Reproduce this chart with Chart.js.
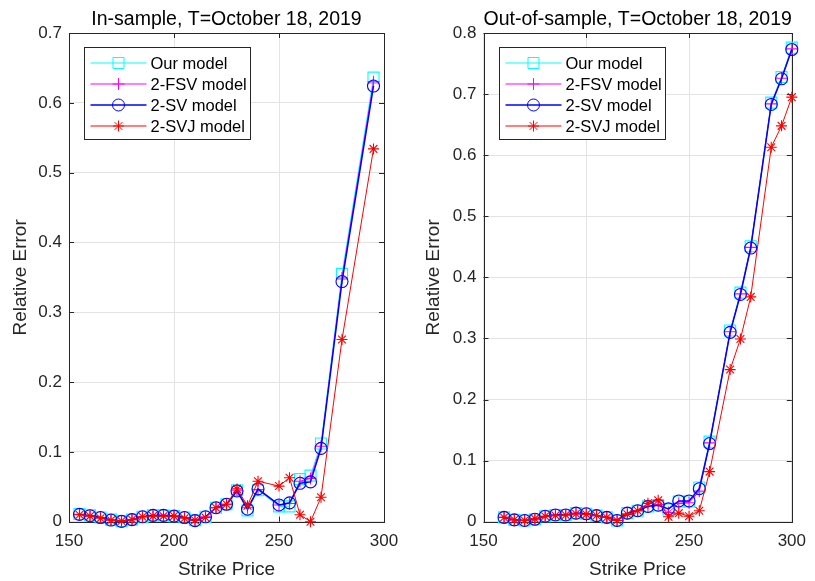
<!DOCTYPE html>
<html>
<head>
<meta charset="utf-8">
<script src="https://cdn.jsdelivr.net/npm/chart.js@4/dist/chart.umd.min.js"></script>
<style>
    html, body { margin: 0; padding: 0; background: #fff; }
    #wrap { position: relative; width: 815px; height: 581px; }
    #wrap canvas { position: absolute; left: 0; top: 0; }
</style>
</head>
<body>
<div id="wrap">
    <canvas id="inSample" width="815" height="581"></canvas>
    <canvas id="outSample" width="815" height="581"></canvas>
</div>
<script>
// values
const seriesNames = ['Our model', '2-FSV model', '2-SV model', '2-SVJ model'];
const xTicks = [150, 200, 250, 300];

const strikeIn = [155, 160, 165, 170, 175, 180, 185, 190, 195, 200, 205, 210, 215,
                  220, 225, 230, 235, 240, 250, 255, 260, 265, 270, 280, 295];
const oursIn = [0.011, 0.009, 0.006, 0.003, 0.001, 0.003, 0.007, 0.009, 0.009, 0.008, 0.006, 0.002, 0.007,
                0.020, 0.025, 0.045, 0.016, 0.045, 0.022, 0.022, 0.061, 0.066, 0.112, 0.355, 0.636];
const fsvIn = [0.0105, 0.0085, 0.006, 0.0025, 0.0008, 0.003, 0.007, 0.009, 0.009, 0.008, 0.006, 0.002, 0.007,
               0.020, 0.025, 0.045, 0.020, 0.046, 0.024, 0.026, 0.058, 0.062, 0.108, 0.349, 0.630];
const svIn = [0.0105, 0.0086, 0.006, 0.0024, 0.0005, 0.003, 0.007, 0.009, 0.009, 0.008, 0.006, 0.0015, 0.007,
              0.020, 0.025, 0.044, 0.018, 0.047, 0.024, 0.027, 0.055, 0.057, 0.105, 0.344, 0.624];
const svjIn = [0.010, 0.008, 0.005, 0.002, 0.001, 0.003, 0.007, 0.008, 0.008, 0.008, 0.005, 0.002, 0.006,
               0.020, 0.025, 0.047, 0.023, 0.058, 0.051, 0.063, 0.010, 0.0, 0.035, 0.261, 0.534];

const strikeOut = [160, 165, 170, 175, 180, 185, 190, 195, 200, 205, 210, 215, 220, 225,
                   230, 235, 240, 245, 250, 255, 260, 270, 275, 280, 290, 295, 300];
const oursOut = [0.007, 0.003, 0.002, 0.004, 0.009, 0.011, 0.011, 0.014, 0.013, 0.010, 0.007, 0.002, 0.014, 0.018,
                 0.025, 0.027, 0.020, 0.033, 0.033, 0.056, 0.131, 0.313, 0.375, 0.451, 0.686, 0.728, 0.776];
const fsvOut = [0.007, 0.003, 0.002, 0.004, 0.009, 0.011, 0.011, 0.014, 0.013, 0.010, 0.007, 0.002, 0.013, 0.018,
                0.025, 0.028, 0.015, 0.030, 0.031, 0.050, 0.129, 0.311, 0.373, 0.449, 0.684, 0.726, 0.774];
const svOut = [0.007, 0.003, 0.002, 0.004, 0.009, 0.011, 0.011, 0.014, 0.013, 0.010, 0.007, 0.002, 0.014, 0.018,
               0.025, 0.027, 0.021, 0.034, 0.034, 0.054, 0.128, 0.310, 0.372, 0.448, 0.683, 0.725, 0.773];
const svjOut = [0.007, 0.003, 0.002, 0.005, 0.009, 0.010, 0.011, 0.013, 0.012, 0.010, 0.007, 0.002, 0.012, 0.018,
                0.030, 0.035, 0.008, 0.014, 0.009, 0.018, 0.082, 0.249, 0.299, 0.368, 0.613, 0.648, 0.695];

const FONT = '"Liberation Sans", Arial, Helvetica, sans-serif';
const AXIS = '#262626';

const styles = [
    { color: '#00ffff', pointStyle: 'rect',   radius: 7.8, width: 1,   order: 4 },
    { color: '#ff00ff', pointStyle: 'cross',  radius: 6,   width: 1,   order: 3 },
    { color: '#0000ff', pointStyle: 'circle', radius: 6,   width: 1.5, order: 2 },
    { color: '#ff0000', pointStyle: 'star',   radius: 5.5, width: 1,   order: 1 },
];

const toPoints = (xs, ys) => xs.map((x, i) => ({ x, y: ys[i] }));

// MATLAB-ish box: border, inward ticks on all four sides, title, legend
const boxPlugin = {
    id: 'matlabBox',
    beforeDatasetsDraw(chart, args, opts) {
        const { ctx, chartArea: a, scales: { x, y } } = chart;
        ctx.save();
        ctx.strokeStyle = AXIS;
        ctx.lineWidth = 1;
        ctx.beginPath();
        x.ticks.forEach(t => {
            const px = Math.round(x.getPixelForValue(t.value)) + 0.5;
            ctx.moveTo(px, a.bottom); ctx.lineTo(px, a.bottom - 5);
            ctx.moveTo(px, a.top); ctx.lineTo(px, a.top + 5);
        });
        y.ticks.forEach(t => {
            const py = Math.round(y.getPixelForValue(t.value)) + 0.5;
            ctx.moveTo(a.left, py); ctx.lineTo(a.left + 5, py);
            ctx.moveTo(a.right, py); ctx.lineTo(a.right - 5, py);
        });
        ctx.stroke();
        ctx.strokeRect(Math.round(a.left) + 0.5, Math.round(a.top) + 0.5,
                       Math.round(a.right - a.left), Math.round(a.bottom - a.top));
        ctx.restore();
    },
    afterDraw(chart, args, opts) {
        const { ctx, chartArea: a } = chart;
        ctx.save();
        ctx.fillStyle = '#000';
        ctx.font = `19.5px ${FONT}`;
        ctx.textAlign = 'center';
        ctx.textBaseline = 'middle';
        ctx.fillText(opts.title, (a.left + a.right) / 2, 20);

        const lx = Math.round(a.left) + 15.5, ly = Math.round(a.top) + 14.5;
        const lw = 166, lh = 92;
        ctx.fillStyle = '#fff';
        ctx.fillRect(lx, ly, lw, lh);
        ctx.strokeStyle = AXIS;
        ctx.lineWidth = 1;
        ctx.strokeRect(lx, ly, lw, lh);
        ctx.font = `16.5px ${FONT}`;
        ctx.textAlign = 'left';
        chart.data.datasets.forEach((ds, i) => {
            const cy = ly + 15.5 + i * 21;
            ctx.strokeStyle = ds.borderColor;
            ctx.lineWidth = ds.borderWidth;
            ctx.beginPath();
            ctx.moveTo(lx + 6, cy); ctx.lineTo(lx + 62, cy);
            ctx.stroke();
            ctx.lineWidth = 1;
            ctx.fillStyle = 'rgba(0,0,0,0)';
            Chart.helpers.drawPoint(ctx, {
                pointStyle: ds.pointStyle, radius: ds.pointRadius, rotation: 0, borderWidth: 1,
            }, lx + 34, cy);
            ctx.fillStyle = '#000';
            ctx.fillText(ds.label, lx + 66, cy + 1);
        });
        ctx.restore();
    },
};

function makeChart(id, title, xs, series, yMax, padLeft, padRight, yAxisWidth, yTitlePad) {
    new Chart(document.getElementById(id), {
        type: 'line',
        data: {
            datasets: series.map((ys, i) => ({
                label: seriesNames[i],
                data: toPoints(xs, ys),
                borderColor: styles[i].color,
                backgroundColor: 'rgba(0,0,0,0)',
                borderWidth: styles[i].width,
                pointStyle: styles[i].pointStyle,
                pointRadius: styles[i].radius,
                pointBorderColor: styles[i].color,
                pointBackgroundColor: 'rgba(0,0,0,0)',
                pointBorderWidth: 1.1,
                tension: 0,
                clip: false,
                order: styles[i].order,
            })),
        },
        options: {
            responsive: false,
            animation: false,
            events: [],
            layout: { padding: { left: padLeft, right: padRight, top: 33, bottom: 0 } },
            plugins: {
                legend: { display: false },
                tooltip: { enabled: false },
                matlabBox: { title },
            },
            scales: {
                x: {
                    type: 'linear',
                    min: 150, max: 300,
                    afterBuildTicks: s => { s.ticks = xTicks.map(v => ({ value: v })); },
                    grid: { color: '#e3e3e3', drawTicks: false },
                    border: { display: false },
                    ticks: { color: AXIS, padding: 9, font: { family: FONT, size: 17 } },
                    title: {
                        display: true, text: 'Strike Price', color: AXIS,
                        font: { family: FONT, size: 19 }, padding: { top: 3.6, bottom: 0 },
                    },
                    afterFit: s => { s.height = 59.3; },
                },
                y: {
                    min: 0, max: yMax,
                    grid: { color: '#e3e3e3', drawTicks: false },
                    border: { display: false },
                    ticks: {
                        stepSize: 0.1, color: AXIS, padding: 7, font: { family: FONT, size: 17 },
                        callback: v => String(+v.toFixed(1)),
                    },
                    title: {
                        display: true, text: 'Relative Error', color: AXIS,
                        font: { family: FONT, size: 19 }, padding: { top: yTitlePad, bottom: 0 },
                    },
                    afterFit: s => { s.width = yAxisWidth; },
                },
            },
        },
        plugins: [boxPlugin],
    });
}

makeChart('inSample', 'In-sample, T=October 18, 2019', strikeIn,
          [oursIn, fsvIn, svIn, svjIn], 0.7, 0, 431, 69, 9.6);
makeChart('outSample', 'Out-of-sample, T=October 18, 2019', strikeOut,
          [oursOut, fsvOut, svOut, svjOut], 0.8, 408, 15.7, 75.5, 14.6);
</script>
</body>
</html>
